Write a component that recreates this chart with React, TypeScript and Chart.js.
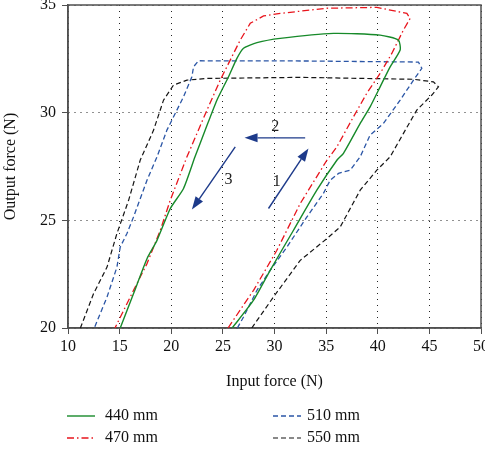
import React, { useEffect, useRef } from "react";
import { Chart, registerables } from "chart.js";

Chart.register(...registerables);

// ---- axes ----
const X_MIN = 10;
const X_MAX = 50;
const X_STEP = 5;
const Y_MIN = 20;
const Y_MAX = 35;
const Y_STEP = 5;
const X_TITLE = "Input force (N)";
const Y_TITLE = "Output force (N)";

// ---- series (loop: right branch up, top leftwards, left branch down) ----
const labels = ["440 mm", "470 mm", "510 mm", "550 mm"];

const mm440X = [25.9, 27.97, 29.58, 31.84, 34.1, 36.04, 36.68, 38.3, 39.26, 40.23, 41.2, 42.17, 42.0, 40.23, 35.71, 30.55, 28.3, 27.0, 26.36, 25.55, 24.42, 23.29, 22.3, 21.19, 19.91, 18.62, 17.65, 16.35, 15.06];
const mm440Y = [20.0, 21.29, 22.68, 24.54, 26.4, 27.79, 28.11, 29.5, 30.27, 31.2, 32.13, 32.91, 33.37, 33.6, 33.68, 33.45, 33.25, 32.99, 32.52, 31.67, 30.58, 29.19, 27.95, 26.48, 25.55, 24.07, 23.22, 21.6, 20.0];

const mm470X = [25.5, 27.97, 30.23, 32.49, 35.07, 36.04, 37.65, 38.94, 40.23, 41.36, 42.49, 43.14, 42.82, 39.91, 35.07, 30.55, 28.94, 27.65, 26.68, 24.74, 23.46, 21.52, 19.9, 18.94, 17.65, 16.35, 14.55];
const mm470Y = [20.0, 21.75, 23.61, 25.78, 27.79, 28.41, 29.81, 30.9, 31.82, 32.75, 33.84, 34.38, 34.61, 34.89, 34.85, 34.61, 34.49, 34.15, 33.37, 31.51, 30.12, 27.95, 25.93, 24.54, 22.99, 21.75, 20.0];

const mm510X = [26.4, 27.0, 28.3, 29.58, 31.2, 33.14, 34.74, 35.39, 36.2, 37.33, 38.3, 39.26, 40.55, 42.17, 43.46, 44.27, 43.94, 33.0, 22.64, 22.16, 22.0, 21.19, 19.58, 18.62, 17.65, 16.35, 15.71, 15.06, 14.74, 13.78, 12.55];
const mm510Y = [20.0, 20.51, 21.75, 22.68, 23.76, 25.16, 26.25, 26.86, 27.18, 27.33, 27.95, 28.96, 29.5, 30.58, 31.51, 32.06, 32.35, 32.4, 32.41, 32.13, 31.67, 30.74, 29.19, 27.95, 26.86, 25.16, 24.39, 23.76, 22.83, 21.44, 20.0];

const mm550X = [27.8, 29.9, 32.49, 35.07, 36.36, 38.3, 39.91, 41.2, 42.49, 43.78, 45.24, 45.88, 45.39, 43.46, 32.49, 23.46, 21.52, 20.22, 19.25, 18.29, 17.0, 15.87, 14.74, 13.78, 12.48, 11.2];
const mm550Y = [20.0, 21.44, 23.14, 24.15, 24.69, 26.4, 27.33, 27.95, 29.04, 30.12, 30.82, 31.2, 31.43, 31.55, 31.64, 31.59, 31.51, 31.28, 30.58, 29.19, 27.8, 25.93, 24.39, 22.83, 21.6, 20.0];

// ---- annotation arrows ----
const arrowText = ["1", "2", "3"];
const arrowFromX = [29.42, 32.97, 26.2];
const arrowFromY = [25.55, 28.83, 28.41];
const arrowToX = [33.29, 27.1, 22.0];
const arrowToY = [28.34, 28.83, 25.5];
const arrowTextX = [30.23, 30.07, 25.55];
const arrowTextY = [26.79, 29.34, 26.86];

const FONT = "'Liberation Serif', 'Times New Roman', serif";
const FS = 16;

const toPoints = (xs: number[], ys: number[]) => xs.map((x, i) => ({ x, y: ys[i] }));

const styles = [
  { color: "#178a2a", dash: [] as number[], width: 1.4, tension: 0.2 },
  { color: "#e8141c", dash: [7, 3, 1.5, 3], width: 1.3, tension: 0 },
  { color: "#2b56a6", dash: [5, 3], width: 1.3, tension: 0 },
  { color: "#151515", dash: [5, 3], width: 1.2, tension: 0 },
];

const framePlugin = {
  id: "frame",
  beforeDatasetsDraw(chart: any) {
    const { ctx, chartArea: a } = chart;
    ctx.save();
    ctx.strokeStyle = "#505050";
    ctx.lineWidth = 1.5;
    ctx.setLineDash([]);
    ctx.strokeRect(a.left, a.top, a.right - a.left, a.bottom - a.top);
    ctx.restore();
  },
};

const arrowPlugin = {
  id: "arrows",
  afterDatasetsDraw(chart: any) {
    const { ctx } = chart;
    const xs = chart.scales.x;
    const ys = chart.scales.y;
    ctx.save();
    for (let i = 0; i < arrowText.length; i++) {
      const x1 = xs.getPixelForValue(arrowFromX[i]);
      const y1 = ys.getPixelForValue(arrowFromY[i]);
      const x2 = xs.getPixelForValue(arrowToX[i]);
      const y2 = ys.getPixelForValue(arrowToY[i]);
      const ang = Math.atan2(y2 - y1, x2 - x1);
      const headLen = 13;
      const headHalf = 4.5;
      const bx = x2 - headLen * Math.cos(ang);
      const by = y2 - headLen * Math.sin(ang);
      ctx.strokeStyle = "#1d3a8a";
      ctx.fillStyle = "#1d3a8a";
      ctx.lineWidth = 1.4;
      ctx.setLineDash([]);
      ctx.beginPath();
      ctx.moveTo(x1, y1);
      ctx.lineTo(bx, by);
      ctx.stroke();
      ctx.beginPath();
      ctx.moveTo(x2, y2);
      ctx.lineTo(bx + headHalf * Math.sin(ang), by - headHalf * Math.cos(ang));
      ctx.lineTo(bx - headHalf * Math.sin(ang), by + headHalf * Math.cos(ang));
      ctx.closePath();
      ctx.fill();
      ctx.fillStyle = "#222";
      ctx.font = `${FS}px ${FONT}`;
      ctx.textAlign = "center";
      ctx.textBaseline = "middle";
      ctx.fillText(arrowText[i], xs.getPixelForValue(arrowTextX[i]), ys.getPixelForValue(arrowTextY[i]));
    }
    ctx.restore();
  },
};

const legendPlugin = {
  id: "customLegend",
  afterDraw(chart: any) {
    const { ctx, chartArea: a } = chart;
    const H = chart.height;
    const order = [0, 1, 2, 3];
    ctx.save();
    order.forEach((di) => {
      const ds = chart.data.datasets[di];
      const col = di < 2 ? 0 : 1;
      const row = di % 2;
      const lx = a.left - 1 + col * 206;
      const ly = H - 33 + row * 22;
      ctx.strokeStyle = ds.borderColor;
      ctx.lineWidth = ds.borderWidth;
      ctx.setLineDash(ds.borderDash || []);
      ctx.beginPath();
      ctx.moveTo(lx, ly);
      ctx.lineTo(lx + 28, ly);
      ctx.stroke();
      ctx.setLineDash([]);
      ctx.fillStyle = "#111";
      ctx.font = `${FS}px ${FONT}`;
      ctx.textAlign = "left";
      ctx.textBaseline = "middle";
      ctx.fillText(ds.label, lx + 38 + col * (-4), ly);
    });
    ctx.restore();
  },
};

export default function App() {
  const ref = useRef<HTMLCanvasElement>(null);
  useEffect(() => {
    const sets = [
      toPoints(mm440X, mm440Y),
      toPoints(mm470X, mm470Y),
      toPoints(mm510X, mm510Y),
      toPoints(mm550X, mm550Y),
    ];
    const chart = new Chart(ref.current as HTMLCanvasElement, {
      type: "scatter",
      data: {
        datasets: sets.map((pts, i) => ({
          label: labels[i],
          data: pts,
          showLine: true,
          fill: false,
          borderColor: styles[i].color,
          backgroundColor: styles[i].color,
          borderDash: styles[i].dash,
          borderWidth: styles[i].width,
          tension: styles[i].tension,
          pointRadius: 0,
          pointHoverRadius: 0,
        })),
      },
      options: {
        animation: false,
        responsive: false,
        devicePixelRatio: 1,
        layout: { padding: { top: 5, right: 4, bottom: 58, left: 0 } },
        plugins: {
          legend: { display: false },
          tooltip: { enabled: false },
        },
        scales: {
          x: {
            type: "linear",
            min: X_MIN,
            max: X_MAX,
            afterFit: (s: any) => {
              s.height = 63;
              s.paddingLeft = 0;
              s.paddingRight = 0;
            },
            ticks: {
              stepSize: X_STEP,
              color: "#111",
              padding: 3,
              font: { family: FONT, size: FS },
            },
            grid: {
              color: "#222",
              lineWidth: 1,
              tickLength: 6,
              tickColor: "#505050",
              tickBorderDash: [],
            },
            border: { display: true, color: "#505050", width: 1.5, dash: [1, 5] },
            title: {
              display: true,
              text: X_TITLE,
              color: "#111",
              font: { family: FONT, size: FS },
              padding: { top: 0, bottom: 0 },
            },
          },
          y: {
            type: "linear",
            min: Y_MIN,
            max: Y_MAX,
            afterFit: (s: any) => {
              s.width = 68;
              s.paddingTop = 0;
              s.paddingBottom = 0;
            },
            ticks: {
              stepSize: Y_STEP,
              color: "#111",
              padding: 6,
              font: { family: FONT, size: FS },
            },
            grid: {
              color: "#222",
              lineWidth: 1,
              tickLength: 6,
              tickColor: "#505050",
              tickBorderDash: [],
            },
            border: { display: true, color: "#505050", width: 1.5, dash: [1, 5] },
            title: {
              display: true,
              text: Y_TITLE,
              color: "#111",
              font: { family: FONT, size: FS },
              padding: { top: 1, bottom: 0 },
            },
          },
        },
      },
      plugins: [framePlugin, arrowPlugin, legendPlugin],
    } as any);
    return () => chart.destroy();
  }, []);
  return (
    <div style={{ position: "fixed", left: 0, top: 0, width: 485, height: 449, background: "#fff" }}>
      <canvas ref={ref} width={485} height={449} style={{ display: "block" }} />
    </div>
  );
}
